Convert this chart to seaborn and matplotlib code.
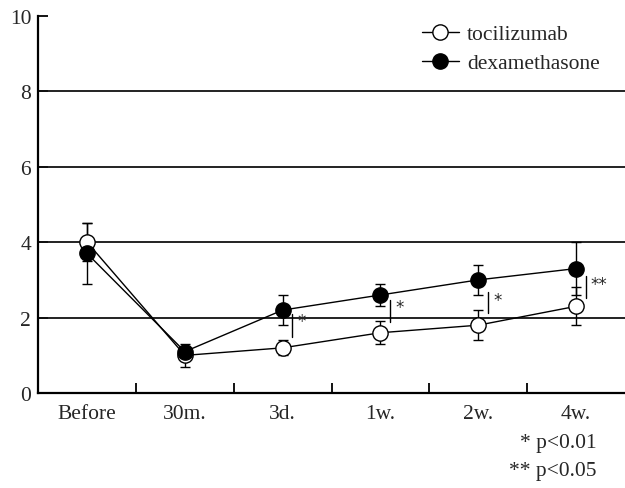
import matplotlib
matplotlib.use("Agg")
import matplotlib.pyplot as plt
import seaborn as sns
import pandas as pd

# Time points and group means / SD
timepoints = ["Before", "30m.", "3d.", "1w.", "2w.", "4w."]
toci_mean = [4.0, 1.0, 1.2, 1.6, 1.8, 2.3]
toci_sd = [0.5, 0.3, 0.2, 0.3, 0.4, 0.5]
dexa_mean = [3.7, 1.1, 2.2, 2.6, 3.0, 3.3]
dexa_sd = [0.8, 0.1, 0.4, 0.3, 0.4, 0.7]

# Significance brackets: (time index, low, high, label)
sig_idx = [2, 3, 4, 5]
sig_low = [1.5, 1.88, 2.12, 2.52]
sig_high = [2.1, 2.47, 2.68, 3.1]
sig_label = ["*", "*", "*", "**"]

footnotes = ["* p<0.01", "** p<0.05"]

FS = 15.5

sns.set_theme(style="white")
plt.rcParams["font.family"] = ["Liberation Serif", "DejaVu Serif"]
plt.rcParams["font.size"] = FS

fig = plt.figure(figsize=(6.25, 4.89), dpi=100)
ax = fig.add_axes([0.061, 0.194, 0.939, 0.772])

df = pd.DataFrame({
    "time": timepoints * 2,
    "value": toci_mean + dexa_mean,
    "group": ["tocilizumab"] * 6 + ["dexamethasone"] * 6,
})

pos = list(range(len(timepoints)))

# Error bars
ax.errorbar(pos, toci_mean, yerr=toci_sd, fmt="none", ecolor="black",
            elinewidth=1.0, capsize=3.5, capthick=1.0, zorder=2)
ax.errorbar(pos, dexa_mean, yerr=dexa_sd, fmt="none", ecolor="black",
            elinewidth=1.0, capsize=3.5, capthick=1.0, zorder=2)

sns.lineplot(data=df[df.group == "tocilizumab"], x="time", y="value", ax=ax,
             color="black", linewidth=1.0, marker="o", markersize=11,
             markerfacecolor="white", markeredgecolor="black",
             markeredgewidth=1.0, sort=False, label="tocilizumab", zorder=3)
sns.lineplot(data=df[df.group == "dexamethasone"], x="time", y="value", ax=ax,
             color="black", linewidth=1.0, marker="o", markersize=11,
             markerfacecolor="black", markeredgecolor="black",
             markeredgewidth=1.0, sort=False, label="dexamethasone", zorder=4)

# Significance marks
for i, lo, hi, lab in zip(sig_idx, sig_low, sig_high, sig_label):
    ax.plot([i + 0.1, i + 0.1], [lo, hi], color="black", lw=1.0)
    ax.text(i + 0.15, hi - 0.2, lab, fontsize=12,
            family="DejaVu Sans", ha="left", va="center")

ax.set_xlim(-0.5, 5.5)
ax.set_ylim(0, 10)
ax.set_yticks([0, 2, 4, 6, 8, 10])
ax.set_xticks(pos)
ax.set_xticklabels(timepoints)
ax.set_xticks([0.5, 1.5, 2.5, 3.5, 4.5], minor=True)
ax.set_xlabel("")
ax.set_ylabel("")

for y in [2, 4, 6, 8]:
    ax.axhline(y, color="#111111", lw=1.3, zorder=1)

for s in ["top", "right"]:
    ax.spines[s].set_visible(False)
for s in ["left", "bottom"]:
    ax.spines[s].set_color("black")
    ax.spines[s].set_linewidth(1.6)

ax.tick_params(axis="x", which="major", length=0, pad=8, labelsize=FS)
ax.tick_params(axis="x", which="minor", direction="in", length=7,
               width=1.3, color="black", bottom=True)
ax.tick_params(axis="y", direction="in", length=7, width=1.3,
               color="black", left=True, pad=5, labelsize=FS)

ax.legend(loc="upper left", bbox_to_anchor=(0.654, 0.977), frameon=False,
          handlelength=1.7, handletextpad=0.4, labelspacing=0.42,
          borderpad=0, borderaxespad=0, fontsize=FS)

fig.text(0.955, 0.094, footnotes[0], ha="right", va="center", fontsize=FS)
fig.text(0.955, 0.036, footnotes[1], ha="right", va="center", fontsize=FS)

fig.savefig("out.png", dpi=100)
